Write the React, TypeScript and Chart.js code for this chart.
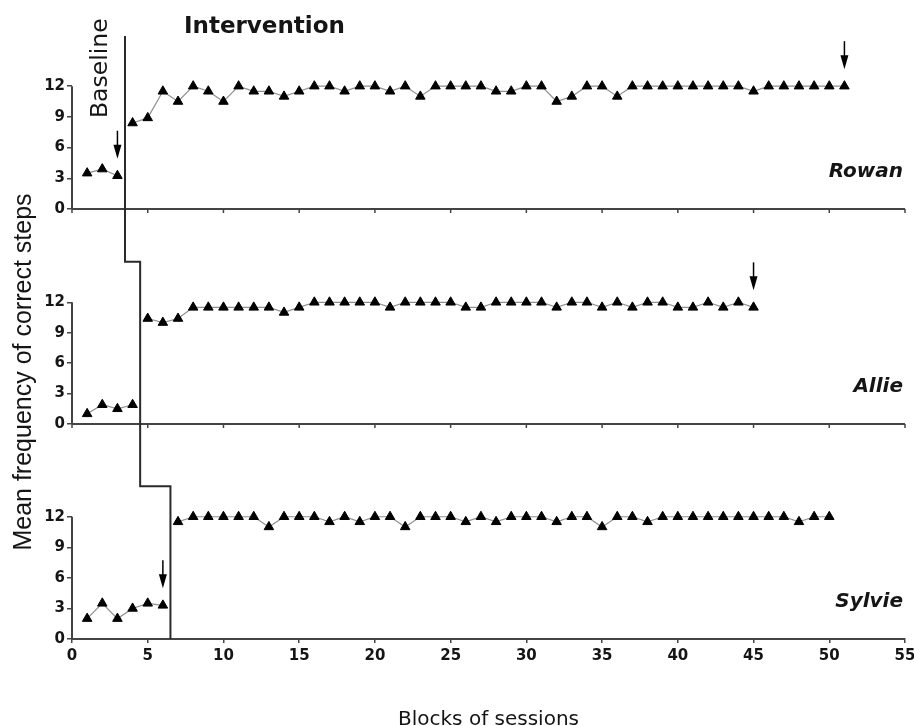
import React, { useEffect, useRef } from "react";
import { Chart, registerables } from "chart.js";

Chart.register(...registerables);

// ---- data ----
const participants = ["Rowan", "Allie", "Sylvie"];
const xTickValues = [0, 5, 10, 15, 20, 25, 30, 35, 40, 45, 50, 55];
const yTickValues = [0, 3, 6, 9, 12];

const rowanBaseline = [3.5, 3.9, 3.25];
const rowanIntervention = [
  8.4, 8.9, 11.5, 10.5, 12, 11.5, 10.5, 12, 11.5, 11.5,
  11, 11.5, 12, 12, 11.5, 12, 12, 11.5, 12, 11,
  12, 12, 12, 12, 11.5, 11.5, 12, 12, 10.5, 11,
  12, 12, 11, 12, 12, 12, 12, 12, 12, 12,
  12, 11.5, 12, 12, 12, 12, 12, 12,
];
const rowanArrows = [3, 51];

const allieBaseline = [1, 1.9, 1.5, 1.9];
const allieIntervention = [
  10.4, 10, 10.4, 11.5, 11.5, 11.5, 11.5, 11.5, 11.5, 11,
  11.5, 12, 12, 12, 12, 12, 11.5, 12, 12, 12,
  12, 11.5, 11.5, 12, 12, 12, 12, 11.5, 12, 12,
  11.5, 12, 11.5, 12, 12, 11.5, 11.5, 12, 11.5, 12,
  11.5,
];
const allieArrows = [45];

const sylvieBaseline = [2, 3.5, 2, 3, 3.5, 3.3];
const sylvieIntervention = [
  11.5, 12, 12, 12, 12, 12, 11, 12, 12, 12,
  11.5, 12, 11.5, 12, 12, 11, 12, 12, 12, 11.5,
  12, 11.5, 12, 12, 12, 11.5, 12, 12, 11, 12,
  12, 11.5, 12, 12, 12, 12, 12, 12, 12, 12,
  12, 11.5, 12, 12,
];
const sylvieArrows = [6];

// ---- styling ----
const W = 914;
const H = 726;
const AXIS = "#444";
const PHASE = "#2a2a2a";
const LINE = "#8f8f8f";
const TEXT = "#151515";
const FONT = "DejaVu Sans";

const panels = [
  { id: "yR", name: participants[0], base: rowanBaseline, inter: rowanIntervention, arrows: rowanArrows, max: 16.9, weight: 173 },
  { id: "yA", name: participants[1], base: allieBaseline, inter: allieIntervention, arrows: allieArrows, max: 21.2, weight: 215 },
  { id: "yS", name: participants[2], base: sylvieBaseline, inter: sylvieIntervention, arrows: sylvieArrows, max: 21.1, weight: 215 },
];

const lineStyle = {
  borderColor: LINE,
  borderWidth: 1.2,
  pointStyle: "triangle",
  pointRadius: 5.5,
  pointBackgroundColor: "#000",
  pointBorderColor: "#000",
  pointBorderWidth: 1,
  tension: 0,
  fill: false,
};

function yScale(max: number, weight: number) {
  return {
    type: "linear",
    position: "left",
    stack: "panels",
    stackWeight: weight,
    min: 0,
    max,
    afterBuildTicks: (s: any) => {
      s.ticks = yTickValues.map((v) => ({ value: v }));
    },
    afterFit: (s: any) => {
      s.width = 72;
      s.paddingTop = 0;
      s.paddingBottom = 0;
    },
    ticks: {
      font: { family: FONT, size: 15, weight: "bold" },
      color: TEXT,
      padding: 2,
      callback: (v: any) => String(v),
    },
    grid: { drawOnChartArea: false, tickLength: 5, color: AXIS, lineWidth: 1.5 },
    border: { display: false },
  };
}

const decorPlugin = {
  id: "decor",
  beforeDatasetsDraw(chart: any) {
    const { ctx, chartArea, scales } = chart;
    const xs = scales.x;
    ctx.save();
    ctx.strokeStyle = AXIS;
    ctx.lineWidth = 2;
    // panel y axes (0..12)
    panels.forEach((p) => {
      const ys = scales[p.id];
      ctx.beginPath();
      ctx.moveTo(chartArea.left, ys.getPixelForValue(0));
      ctx.lineTo(chartArea.left, ys.getPixelForValue(12));
      ctx.stroke();
    });
    // x axes for upper panels
    panels.slice(0, 2).forEach((p) => {
      const ys = scales[p.id];
      const y0 = ys.getPixelForValue(0);
      ctx.lineWidth = 2;
      ctx.beginPath();
      ctx.moveTo(chartArea.left, y0);
      ctx.lineTo(chartArea.right, y0);
      ctx.stroke();
      ctx.lineWidth = 1.5;
      xTickValues.forEach((v) => {
        const x = xs.getPixelForValue(v);
        ctx.beginPath();
        ctx.moveTo(x, y0);
        ctx.lineTo(x, y0 + 4);
        ctx.stroke();
      });
    });
    // phase change line
    const xR = xs.getPixelForValue(rowanBaseline.length + 0.5);
    const xA = xs.getPixelForValue(allieBaseline.length + 0.5);
    const xSy = xs.getPixelForValue(sylvieBaseline.length + 0.5);
    const yA = scales.yA;
    const yS = scales.yS;
    ctx.strokeStyle = PHASE;
    ctx.lineWidth = 2;
    ctx.beginPath();
    ctx.moveTo(xR, chartArea.top);
    ctx.lineTo(xR, yA.getPixelForValue(16));
    ctx.lineTo(xA, yA.getPixelForValue(16));
    ctx.lineTo(xA, yS.getPixelForValue(15));
    ctx.lineTo(xSy, yS.getPixelForValue(15));
    ctx.lineTo(xSy, yS.getPixelForValue(0));
    ctx.stroke();
    ctx.restore();
  },
  afterDatasetsDraw(chart: any) {
    const { ctx, chartArea, scales } = chart;
    const xs = scales.x;
    ctx.save();
    // arrows
    panels.forEach((p) => {
      const ys = scales[p.id];
      const all = [...p.base, ...p.inter];
      p.arrows.forEach((s) => {
        const x = xs.getPixelForValue(s);
        const tip = ys.getPixelForValue(all[s - 1]) - 17;
        const tail = tip - 28;
        ctx.strokeStyle = "#000";
        ctx.lineWidth = 1.5;
        ctx.beginPath();
        ctx.moveTo(x, tail);
        ctx.lineTo(x, tip - 10);
        ctx.stroke();
        ctx.fillStyle = "#000";
        ctx.beginPath();
        ctx.moveTo(x - 4, tip - 14);
        ctx.lineTo(x + 4, tip - 14);
        ctx.lineTo(x, tip);
        ctx.closePath();
        ctx.fill();
      });
      // participant name
      ctx.fillStyle = TEXT;
      ctx.font = `italic bold 20px ${FONT}`;
      ctx.textAlign = "right";
      ctx.textBaseline = "alphabetic";
      ctx.fillText(p.name, chartArea.right - 2, ys.getPixelForValue(0) - 32);
    });
    // phase labels
    ctx.fillStyle = TEXT;
    ctx.font = `bold 23px ${FONT}`;
    ctx.textAlign = "left";
    ctx.textBaseline = "alphabetic";
    ctx.fillText("Intervention", chartArea.left + 112, chartArea.top - 3);

    ctx.save();
    ctx.translate(101, 118);
    ctx.rotate(-Math.PI / 2);
    ctx.font = `23.5px ${FONT}`;
    ctx.textAlign = "left";
    ctx.textBaseline = "middle";
    ctx.fillText("Baseline", 0, 0);
    ctx.restore();

    // y axis title
    ctx.save();
    ctx.translate(24, 372);
    ctx.rotate(-Math.PI / 2);
    ctx.font = `25px "Liberation Sans"`;
    ctx.textAlign = "center";
    ctx.textBaseline = "middle";
    ctx.fillText("Mean frequency of correct steps", 0, 0);
    ctx.restore();

    ctx.restore();
  },
};

export default function App() {
  const ref = useRef<HTMLCanvasElement | null>(null);

  useEffect(() => {
    if (!ref.current) return;
    Chart.defaults.font.family = FONT;
    const datasets: any[] = [];
    panels.forEach((p) => {
      datasets.push({
        ...lineStyle,
        label: `${p.name} baseline`,
        yAxisID: p.id,
        data: p.base.map((v, i) => ({ x: i + 1, y: v })),
      });
      datasets.push({
        ...lineStyle,
        label: `${p.name} intervention`,
        yAxisID: p.id,
        data: p.inter.map((v, i) => ({ x: p.base.length + 1 + i, y: v })),
      });
    });

    const scales: any = {
      x: {
        type: "linear",
        min: 0,
        max: 55,
        afterBuildTicks: (s: any) => {
          s.ticks = xTickValues.map((v) => ({ value: v }));
        },
        afterFit: (s: any) => {
          s.height = H - 639;
          s.paddingLeft = 0;
          s.paddingRight = 0;
        },
        ticks: {
          font: { family: FONT, size: 15, weight: "bold" },
          color: TEXT,
          padding: 4,
          maxRotation: 0,
          autoSkip: false,
          callback: (v: any) => String(v),
        },
        grid: { drawOnChartArea: false, tickLength: 4, color: AXIS, lineWidth: 1.5 },
        border: { color: AXIS, width: 2 },
        title: {
          display: true,
          text: "Blocks of sessions",
          font: { family: FONT, size: 20 },
          color: TEXT,
          padding: { top: 0, bottom: -6 },
        },
      },
    };
    // last defined left-stacked axis is placed at the top
    [...panels].reverse().forEach((p) => {
      scales[p.id] = yScale(p.max, p.weight);
    });

    const chart = new Chart(ref.current, {
      type: "line",
      data: { datasets },
      options: {
        responsive: false,
        animation: false,
        devicePixelRatio: 1,
        layout: { padding: { top: 36, right: 9, left: 0, bottom: 0 } },
        plugins: { legend: { display: false }, tooltip: { enabled: false } },
        scales,
      } as any,
      plugins: [decorPlugin],
    });
    return () => chart.destroy();
  }, []);

  return (
    <div style={{ position: "fixed", left: 0, top: 0, width: W, height: H, background: "#fff" }}>
      <canvas ref={ref} width={W} height={H} style={{ width: W, height: H, display: "block" }} />
    </div>
  );
}
